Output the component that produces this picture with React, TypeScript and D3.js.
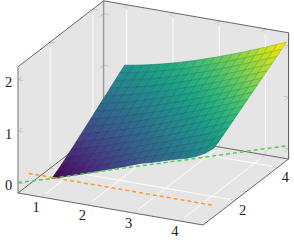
import React from 'react';
import * as d3 from 'd3';

const width = 294, height = 240;

const xTicks = [1, 2, 3, 4];
const yTicks = [2, 4];
const zTicks = [0, 1, 2];

// surface samples
const xs = [1, 1.194, 1.389, 1.583, 1.778, 1.972, 2.167, 2.361, 2.556, 2.75, 2.944, 3.139, 3.333, 3.528, 3.722, 3.917, 4.111, 4.306, 4.5];
const ys = [1, 1.227, 1.453, 1.68, 1.907, 2.133, 2.36, 2.587, 2.813, 3.04, 3.267, 3.493, 3.72, 3.947, 4.173, 4.4];
const zRows = [
  [0, .055, .112, .169, .228, .287, .348, .409, .471, .535, .599, .64, .695, .75, .8, .845, .91, 1, 1.13],
  [.06, .113, .169, .225, .282, .34, .4, .461, .522, .586, .649, .697, .756, .814, .869, .921, .988, 1.072, 1.185],
  [.126, .178, .232, .286, .343, .4, .459, .519, .579, .642, .706, .76, .82, .881, .942, 1, 1.068, 1.148, 1.246],
  [.197, .247, .299, .353, .408, .464, .522, .581, .641, .704, .767, .826, .888, .952, 1.015, 1.078, 1.147, 1.223, 1.31],
  [.27, .318, .369, .421, .475, .53, .588, .646, .706, .768, .83, .892, .956, 1.021, 1.088, 1.155, 1.223, 1.297, 1.375],
  [.345, .392, .441, .492, .545, .599, .655, .713, .772, .833, .895, .96, 1.025, 1.091, 1.159, 1.228, 1.298, 1.37, 1.442],
  [.421, .466, .514, .563, .615, .668, .724, .781, .839, .9, .962, 1.026, 1.09, 1.156, 1.225, 1.293, 1.363, 1.435, 1.507],
  [.497, .54, .587, .635, .685, .737, .792, .849, .906, .967, 1.028, 1.092, 1.156, 1.222, 1.29, 1.359, 1.428, 1.5, 1.572],
  [.573, .615, .659, .706, .756, .807, .861, .916, .973, 1.033, 1.094, 1.157, 1.222, 1.287, 1.356, 1.424, 1.494, 1.566, 1.638],
  [.65, .69, .733, .779, .827, .877, .93, .985, 1.041, 1.101, 1.161, 1.224, 1.289, 1.354, 1.422, 1.491, 1.56, 1.632, 1.704],
  [.727, .765, .807, .851, .898, .947, 1, 1.054, 1.109, 1.169, 1.229, 1.291, 1.355, 1.42, 1.489, 1.557, 1.626, 1.698, 1.77],
  [.803, .84, .88, .923, .969, 1.017, 1.068, 1.122, 1.176, 1.235, 1.295, 1.357, 1.421, 1.486, 1.554, 1.622, 1.692, 1.764, 1.836],
  [.88, .915, .954, .995, 1.04, 1.087, 1.138, 1.191, 1.245, 1.303, 1.362, 1.424, 1.488, 1.552, 1.621, 1.689, 1.758, 1.83, 1.902],
  [.957, .99, 1.027, 1.068, 1.111, 1.157, 1.207, 1.259, 1.313, 1.371, 1.429, 1.491, 1.555, 1.619, 1.687, 1.755, 1.824, 1.896, 1.968],
  [1.033, 1.065, 1.1, 1.139, 1.182, 1.227, 1.276, 1.327, 1.38, 1.437, 1.496, 1.557, 1.62, 1.684, 1.753, 1.821, 1.89, 1.962, 2.034],
  [1.11, 1.14, 1.174, 1.212, 1.253, 1.297, 1.345, 1.396, 1.448, 1.505, 1.563, 1.624, 1.687, 1.751, 1.819, 1.887, 1.956, 2.028, 2.1],
];

// the two dashed lines
const greenXY = [.5, 1, 2, 3, 4, 4.5];
const greenZ = [0, 0, .025, .035, .055, .06];
const orangeX = [.5, 4.5];
const orangeY = 1;
const orangeZ = .02;

const lo = .5, hi = 4.5, zLo = -.2, zHi = 2.25;

// orthographic view: every data axis adds its own screen offset
const xPx = d3.scaleLinear().domain([lo, hi]).range([0, 185]);
const xPy = d3.scaleLinear().domain([lo, hi]).range([0, 32]);
const yPx = d3.scaleLinear().domain([lo, hi]).range([0, 85.6]);
const yPy = d3.scaleLinear().domain([lo, hi]).range([0, -66]);
const zPy = d3.scaleLinear().domain([zLo, zHi]).range([0, -126.2]);

const project = (x: number, y: number, z: number): [number, number] => [
  18 + xPx(x) + yPx(y),
  193 + xPy(x) + yPy(y) + zPy(z),
];

const poly = (pts: [number, number, number][]) =>
  d3.line()(pts.map((p) => project(p[0], p[1], p[2]))) + 'Z';
const seg = (pts: [number, number, number][]) =>
  d3.line()(pts.map((p) => project(p[0], p[1], p[2]))) as string;

const color = d3.scaleSequential(d3.interpolateViridis).domain([0, 2.1]);

// small ticks sit at the ends of the grid lines, in px along each direction
const tickLen = 5;
const dirs = {
  x: (() => { const d = Math.hypot(xPx(hi) - xPx(lo), xPy(hi) - xPy(lo)); return [(xPx(hi) - xPx(lo)) / d, (xPy(hi) - xPy(lo)) / d]; })(),
  y: (() => { const d = Math.hypot(yPx(hi) - yPx(lo), yPy(hi) - yPy(lo)); return [(yPx(hi) - yPx(lo)) / d, (yPy(hi) - yPy(lo)) / d]; })(),
};
const tick = (p: [number, number], d: number[], s: number) =>
  `M${p[0]},${p[1]}L${p[0] + d[0] * s * tickLen},${p[1] + d[1] * s * tickLen}`;
const up = [0, -1];

const App = () => {
  const cells: { d: string; fill: string; key: string }[] = [];
  for (let j = ys.length - 2; j >= 0; j--) {
    for (let i = 0; i < xs.length - 1; i++) {
      const d = poly([
        [xs[i], ys[j], zRows[j][i]],
        [xs[i + 1], ys[j], zRows[j][i + 1]],
        [xs[i + 1], ys[j + 1], zRows[j + 1][i + 1]],
        [xs[i], ys[j + 1], zRows[j + 1][i]],
      ]);
      const mean = (zRows[j][i] + zRows[j][i + 1] + zRows[j + 1][i + 1] + zRows[j + 1][i]) / 4;
      cells.push({ d, fill: color(mean) as string, key: `${i}-${j}` });
    }
  }

  const tickPaths: string[] = [];
  xTicks.forEach((x) => {
    tickPaths.push(tick(project(x, lo, zLo), dirs.y, 1));
    tickPaths.push(tick(project(x, hi, zHi), dirs.y, -1));
    tickPaths.push(tick(project(x, hi, zHi), up, -1));
    tickPaths.push(tick(project(x, hi, zLo), dirs.y, -1));
    tickPaths.push(tick(project(x, hi, zLo), up, 1));
  });
  yTicks.forEach((y) => {
    tickPaths.push(tick(project(hi, y, zLo), dirs.x, -1));
    tickPaths.push(tick(project(lo, y, zHi), dirs.x, 1));
    tickPaths.push(tick(project(lo, y, zHi), up, -1));
    tickPaths.push(tick(project(lo, y, zLo), dirs.x, 1));
    tickPaths.push(tick(project(lo, y, zLo), up, 1));
  });
  zTicks.forEach((z) => {
    tickPaths.push(tick(project(lo, lo, z), dirs.y, 1));
    tickPaths.push(tick(project(lo, lo, z), dirs.x, 1));
    tickPaths.push(tick(project(lo, hi, z), dirs.y, -1));
    tickPaths.push(tick(project(lo, hi, z), dirs.x, 1));
    tickPaths.push(tick(project(hi, hi, z), dirs.y, -1));
    tickPaths.push(tick(project(hi, hi, z), dirs.x, -1));
  });

  const fontFamily = '"Liberation Serif", "DejaVu Serif", serif';

  return (
    <svg width={width} height={height} style={{ position: 'absolute', left: 0, top: 0 }}>
      <rect width={width} height={height} fill="#fff" />
      {/* walls and floor */}
      <path d={poly([[lo, lo, zLo], [lo, hi, zLo], [lo, hi, zHi], [lo, lo, zHi]])} fill="#e5e5e5" />
      <path d={poly([[lo, hi, zLo], [hi, hi, zLo], [hi, hi, zHi], [lo, hi, zHi]])} fill="#e5e5e5" />
      <path d={poly([[lo, lo, zLo], [hi, lo, zLo], [hi, hi, zLo], [lo, hi, zLo]])} fill="#e5e5e5" />
      {/* grid */}
      <g stroke="#fff" strokeWidth={.9} fill="none">
        {xTicks.map((x) => (
          <path key={x} d={seg([[x, lo, zLo], [x, hi, zLo], [x, hi, zHi]])} />
        ))}
        {yTicks.map((y) => (
          <path key={y} d={seg([[hi, y, zLo], [lo, y, zLo], [lo, y, zHi]])} />
        ))}
      </g>
      <path d={tickPaths.join('')} stroke="#b0b0b0" strokeWidth={.6} fill="none" />
      {/* box edges */}
      <g fill="none" stroke="#999" strokeWidth={1.4}>
        <path d={seg([[lo, lo, zLo], [lo, lo, zHi]])} />
        <path d={seg([[lo, hi, zLo], [lo, hi, zHi]])} />
      </g>
      <path d={seg([[hi, hi, zLo], [hi, hi, zHi]])} fill="none" stroke="#555" strokeWidth={1} />
      <g fill="none" stroke="#444" strokeWidth={.8}>
        <path d={seg([[lo, lo, zHi], [lo, hi, zHi], [hi, hi, zHi]])} />
        <path d={seg([[lo, lo, zLo], [lo, hi, zLo], [hi, hi, zLo]])} />
        <path d={seg([[lo, lo, zLo], [hi, lo, zLo], [hi, hi, zLo]])} />
      </g>
      {/* surface */}
      <g strokeWidth={.6} strokeLinejoin="round">
        {cells.map((c) => (
          <path key={c.key} d={c.d} fill={c.fill} stroke={d3.color(c.fill)!.darker(.7).formatHex()} />
        ))}
      </g>
      {/* dashed lines */}
      <path
        d={seg(greenXY.map((v, i) => [v, v, greenZ[i]] as [number, number, number]))}
        fill="none" stroke="#4fce55" strokeWidth={1.5} strokeDasharray="4 3"
      />
      <path
        d={seg(orangeX.map((v) => [v, orangeY, orangeZ] as [number, number, number]))}
        fill="none" stroke="#ff9a2a" strokeWidth={1.5} strokeDasharray="4 3"
      />
      {/* labels */}
      <g fontFamily={fontFamily} fontSize={14.5} fill="#222" textAnchor="middle">
        {xTicks.map((x) => {
          const p = project(x, lo, zLo);
          return <text key={x} x={p[0] - 5} y={p[1] + 15}>{x}</text>;
        })}
        {yTicks.map((y) => {
          const p = project(hi, y, zLo);
          return <text key={y} x={p[0] + 7.5} y={p[1] + 15}>{y}</text>;
        })}
        {zTicks.map((z) => {
          const p = project(lo, lo, z);
          return <text key={z} x={p[0] - 9.5} y={p[1] + 7.5}>{z}</text>;
        })}
      </g>
    </svg>
  );
};

export default App;
